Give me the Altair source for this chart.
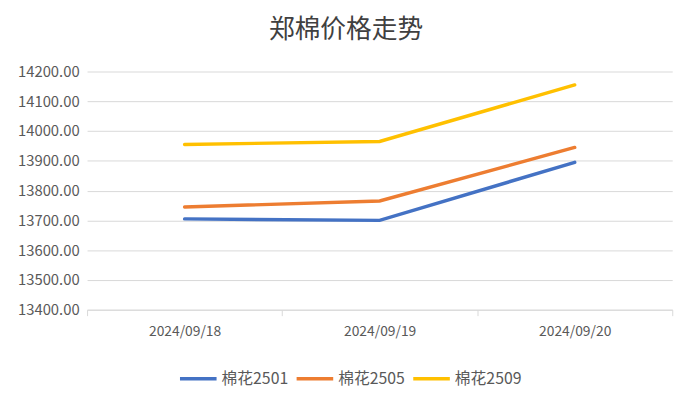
import altair as alt
import pandas as pd

dates = ["2024/09/18", "2024/09/19", "2024/09/20"]
series_names = ["棉花2501", "棉花2505", "棉花2509"]
s2501 = [13705, 13700, 13895]
s2505 = [13745, 13765, 13945]
s2509 = [13955, 13965, 14155]
colors = ["#4472C4", "#ED7D31", "#FFC000"]

rows = []
for name, vals in zip(series_names, [s2501, s2505, s2509]):
    for d, v in zip(dates, vals):
        rows.append({"date": d, "series": name, "price": v})
df = pd.DataFrame(rows)

FONT = "Noto Sans CJK SC"

chart = alt.Chart(df).mark_line(strokeWidth=3.5, strokeCap="round").encode(
    x=alt.X("date:N", bandPosition=0.5,
            scale=alt.Scale(type="band", domain=dates, paddingInner=0, paddingOuter=0),
            axis=alt.Axis(title=None, labelAngle=0, tickBand="extent", ticks=True,
                          tickSize=6, tickColor="#d9d9d9", domainColor="#d9d9d9",
                          labelPadding=9, labelFontSize=14, labelColor="#595959",
                          labelFont=FONT, grid=False)),
    y=alt.Y("price:Q", scale=alt.Scale(domain=[13400, 14200], nice=False, zero=False),
            axis=alt.Axis(title=None, values=list(range(13400, 14201, 100)), format=".2f",
                          labelFontSize=15, labelColor="#595959", labelFont=FONT,
                          labelPadding=8, ticks=False, domain=False,
                          grid=True, gridColor="#d9d9d9")),
    color=alt.Color("series:N", scale=alt.Scale(domain=series_names, range=colors),
                    legend=alt.Legend(title=None, orient="none", direction="horizontal",
                                      legendX=92, legendY=290,
                                      symbolType="stroke", symbolSize=1370,
                                      symbolStrokeWidth=3.5, labelFontSize=16,
                                      labelColor="#595959", labelFont=FONT,
                                      columnPadding=0, labelOffset=3)),
).properties(
    width=592, height=241,
    padding={"left": 80, "top": 62, "right": 20, "bottom": 80},
    autosize=alt.AutoSizeParams(type="none"),
    title=alt.TitleParams("郑棉价格走势", fontSize=26, font=FONT, fontWeight="normal",
                          color="#404040", dx=-34, offset=22),
    background="white",
).configure_view(stroke=None)

chart.save("out.html", embed_options={"renderer": "svg", "actions": False})
